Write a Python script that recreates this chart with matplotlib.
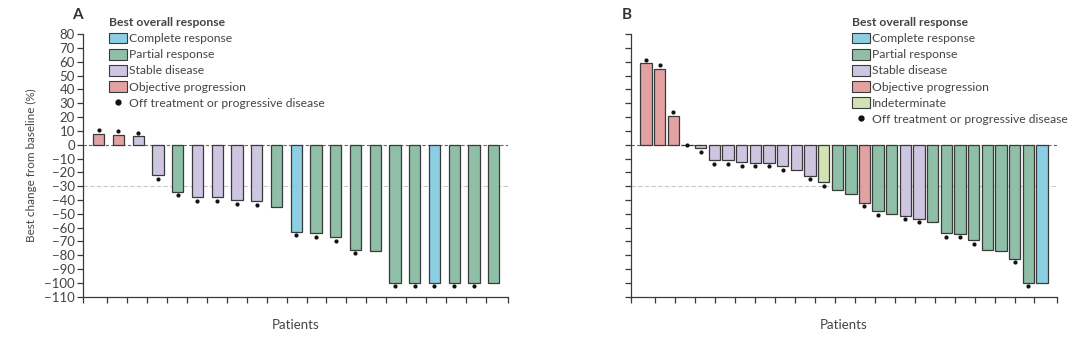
import numpy as np
import matplotlib.pyplot as plt
from matplotlib.patches import Patch
from matplotlib.lines import Line2D

plt.rcParams['font.family'] = ['Lato', 'DejaVu Sans']

# colours per response category
col = {'CR': '#8ccfe3', 'PR': '#8fbfa7', 'SD': '#cec5e1', 'OP': '#e2a2a2', 'ID': '#d3e2b1'}

# panel A
a_vals = [8, 7, 6, -22, -34, -38, -38, -40, -41, -45, -63, -64, -67, -76, -77,
          -100, -100, -100, -100, -100, -100]
a_resp = ['OP', 'OP', 'SD', 'SD', 'PR', 'SD', 'SD', 'SD', 'SD', 'PR', 'CR', 'PR', 'PR', 'PR', 'PR',
          'PR', 'PR', 'CR', 'PR', 'PR', 'PR']
a_off = [1, 1, 1, 1, 1, 1, 1, 1, 1, 0, 1, 1, 1, 1, 0, 1, 1, 1, 1, 1, 0]

# panel B
b_vals = [59, 55, 21, 0, -2.5, -11, -11, -12.5, -13, -13, -15.5, -18.5, -22.5, -27, -33, -36,
          -42, -48, -50, -51.5, -53.5, -56, -64, -64.5, -69, -76.5, -77, -82.5, -100, -100]
b_resp = ['OP', 'OP', 'OP', 'SD', 'SD', 'SD', 'SD', 'SD', 'SD', 'SD', 'SD', 'SD', 'SD', 'ID', 'PR', 'PR',
          'OP', 'PR', 'PR', 'SD', 'SD', 'PR', 'PR', 'PR', 'PR', 'PR', 'PR', 'PR', 'PR', 'CR']
b_off = [1, 1, 1, 1, 1, 1, 1, 1, 1, 1, 1, 0, 1, 1, 0, 0, 1, 1, 0, 1, 1, 0, 1, 1, 1, 0, 0, 1, 1, 0]

yticks = list(range(80, -111, -10))
txt = '#444444'
edge = '#3a3a3a'
fs = 8.7

fig = plt.figure(figsize=(10.8, 3.4), dpi=100)
axA = fig.add_axes([0.0771, 0.1274, 0.393, 0.772])
axB = fig.add_axes([0.5843, 0.1274, 0.394, 0.772])

tick_frac = [0] + list(0.057 + 0.0469 * np.arange(20)) + [1]

def panel(ax, vals, resp, off, width, xlim, labels):
    x = np.arange(len(vals))
    ax.bar(x, vals, width=width, color=[col[r] for r in resp], edgecolor=edge, linewidth=0.9, zorder=2)
    for i in range(len(vals)):
        if off[i]:
            ax.plot(x[i], vals[i] + np.sign(vals[i]) * 2.6, 'o', color='#111111', ms=2.0, zorder=3)
    ax.axhline(0, color='#666666', lw=0.8, ls=(0, (3, 2)), zorder=1)
    ax.axhline(-30, color='#c8c8c8', lw=0.8, ls=(0, (4, 2)), zorder=1)
    ax.set_xlim(xlim)
    ax.set_ylim(-110, 80)
    ax.set_xticks([xlim[0] + f * (xlim[1] - xlim[0]) for f in tick_frac])
    ax.set_xticklabels([])
    ax.set_yticks(yticks)
    if labels:
        ax.set_yticklabels([str(t).replace('-', '\u2212') for t in yticks])
    else:
        ax.set_yticklabels([])
    for s in ['top', 'right']:
        ax.spines[s].set_visible(False)
    for s in ['left', 'bottom']:
        ax.spines[s].set_color(edge)
        ax.spines[s].set_linewidth(0.9)
    ax.tick_params(axis='both', direction='out', length=4.5, width=0.9, color=edge,
                   labelsize=9.5, labelcolor=txt, pad=1.5)
    ax.set_xlabel('Patients', fontsize=9.5, color=txt, labelpad=10)

panel(axA, a_vals, a_resp, a_off, 0.57, (-0.78, 20.71), True)
panel(axB, b_vals, b_resp, b_off, 0.83, (-1.09, 30.06), False)
axA.set_ylabel('Best change from baseline (%)', fontsize=8.4, color=txt, labelpad=5)

fig.text(0.067, 0.945, 'A', fontsize=11, color='#333333', fontweight='bold')
fig.text(0.576, 0.945, 'B', fontsize=11, color='#333333', fontweight='bold')

def legend(ax, cats, names, xpos):
    h = [Patch(facecolor=col[c], edgecolor=edge, linewidth=0.8) for c in cats]
    h.append(Line2D([], [], marker='o', ls='', color='#111111', ms=3.5))
    leg = ax.legend(h, names + ['Off treatment or progressive disease'], loc='upper left',
                    bbox_to_anchor=(xpos, 0.95), bbox_transform=fig.transFigure,
                    frameon=False, fontsize=fs, title='Best overall response',
                    title_fontproperties={'weight': 'bold', 'size': fs},
                    alignment='left', handlelength=1.45, handleheight=1.0, handletextpad=0.2,
                    labelspacing=0.38, borderpad=0, borderaxespad=0)
    leg.get_title().set_color(txt)
    for t in leg.get_texts():
        t.set_color(txt)

legend(axA, ['CR', 'PR', 'SD', 'OP'],
       ['Complete response', 'Partial response', 'Stable disease', 'Objective progression'], 0.101)
legend(axB, ['CR', 'PR', 'SD', 'OP', 'ID'],
       ['Complete response', 'Partial response', 'Stable disease', 'Objective progression',
        'Indeterminate'], 0.789)

fig.savefig('out.png', dpi=100)
